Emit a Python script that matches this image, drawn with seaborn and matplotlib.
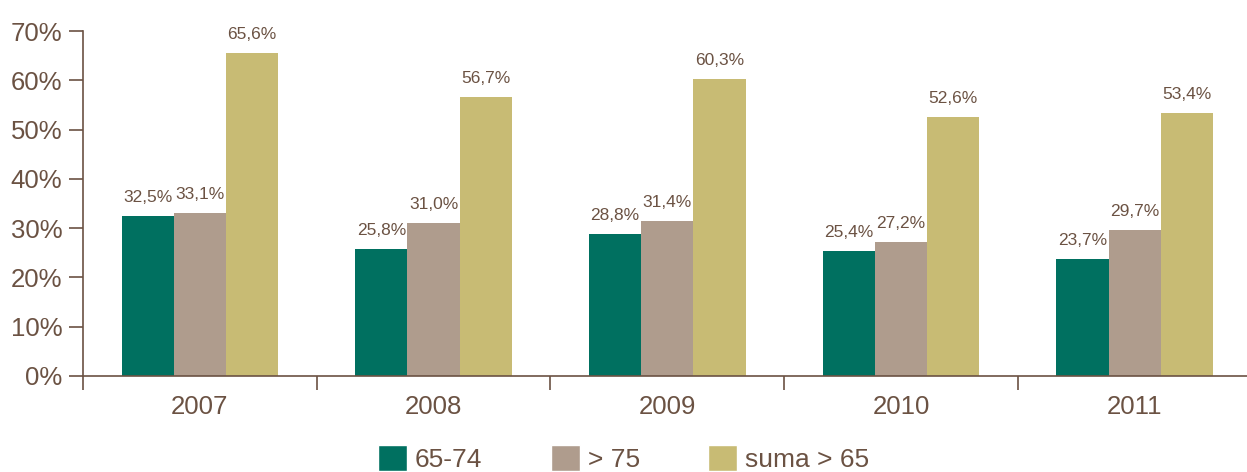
import pandas as pd
import matplotlib.pyplot as plt
import seaborn as sns
from matplotlib.patches import Patch

# Data
years = ['2007', '2008', '2009', '2010', '2011']
series = ['65-74', '> 75', 'suma > 65']
grupo_65_74 = [32.5, 25.8, 28.8, 25.4, 23.7]
grupo_75 = [33.1, 31.0, 31.4, 27.2, 29.7]
suma_65 = [65.6, 56.7, 60.3, 52.6, 53.4]
colors = ['#007060', '#AF9C8D', '#C8BB74']
text_color = '#6B5243'

df = pd.DataFrame({
    'year': years * 3,
    'serie': [series[0]] * 5 + [series[1]] * 5 + [series[2]] * 5,
    'value': grupo_65_74 + grupo_75 + suma_65,
})

sns.set_style('white')
plt.rcParams['font.family'] = ['Liberation Sans', 'DejaVu Sans']
plt.rcParams['text.color'] = text_color

fig = plt.figure(figsize=(12.47, 4.72), dpi=100)
ax = fig.add_axes([0.0666, 0.2034, 0.937, 0.7306])

sns.barplot(data=df, x='year', y='value', hue='serie', palette=colors,
            width=0.67, gap=0, saturation=1, linewidth=0, ax=ax, legend=False)

for cont in ax.containers:
    ax.bar_label(cont, labels=[f'{v:.1f}%'.replace('.', ',') for v in cont.datavalues],
                 padding=8, fontsize=12.5, color=text_color)

ax.set_ylim(0, 70)
ax.set_xlim(-0.5, 4.5)
ax.set_yticks(range(0, 71, 10))
ax.set_yticklabels([f'{v}%' for v in range(0, 71, 10)])
ax.set_xticks(range(5))
ax.set_xticks([-0.5, 0.5, 1.5, 2.5, 3.5], minor=True)
ax.set_xlabel('')
ax.set_ylabel('')

for side in ['top', 'right']:
    ax.spines[side].set_visible(False)
for side in ['left', 'bottom']:
    ax.spines[side].set_color(text_color)
    ax.spines[side].set_linewidth(1.2)

ax.tick_params(axis='y', left=True, length=10, width=1.2, color=text_color,
               labelsize=18.5, labelcolor=text_color, pad=5)
ax.tick_params(axis='x', which='major', bottom=False, labelsize=18.5,
               labelcolor=text_color, pad=10)
ax.tick_params(axis='x', which='minor', bottom=True, length=10, width=1.2,
               color=text_color)

handles = [Patch(facecolor=c, label=s) for c, s in zip(colors, series)]
fig.legend(handles=handles, loc='lower center', bbox_to_anchor=(0.5, -0.05),
           ncol=3, frameon=False, fontsize=19, handlelength=1.1, handleheight=1.1,
           handletextpad=0.3, columnspacing=2.6, labelcolor=text_color)

fig.savefig('out.png', dpi=100)
